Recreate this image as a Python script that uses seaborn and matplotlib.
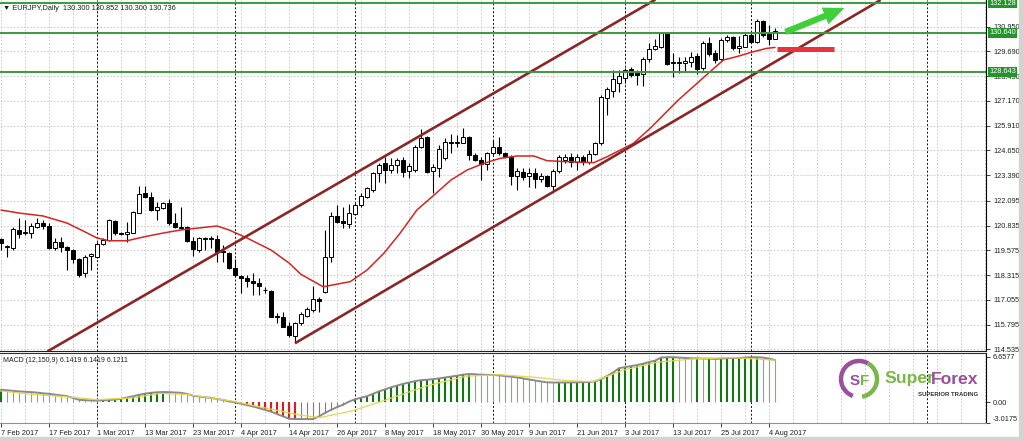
import numpy as np
import matplotlib
matplotlib.use("Agg")
import matplotlib.pyplot as plt
import matplotlib.transforms as mtransforms
from matplotlib.patches import Rectangle, Arc
import seaborn as sns

sns.set_style("white")
plt.rcParams['font.family'] = ['Liberation Sans', 'DejaVu Sans']

# ---------------- data ----------------
opens = [120.13, 119.73, 119.67, 120.61, 120.45, 120.44, 120.78, 120.95, 120.81, 119.67,
         120.01, 119.73, 119.59, 119.12, 118.40, 119.28, 119.22, 119.89, 120.10, 121.08,
         120.47, 120.40, 120.47, 121.49, 122.51, 122.30, 121.62, 121.71, 121.98, 120.98,
         120.78, 120.78, 120.06, 119.59, 120.17, 120.20, 120.13, 119.54, 119.42, 118.66,
         118.27, 118.15, 118.03, 117.93, 117.57, 117.52, 116.23, 116.20, 115.72, 115.22,
         115.86, 116.23, 116.54, 117.08, 117.47, 119.25, 121.32, 121.08, 120.91, 121.42,
         121.88, 122.30, 122.64, 123.49, 124.00, 123.66, 123.91, 124.17, 123.62, 123.66,
         124.81, 125.32, 123.62, 123.74, 124.25, 125.10, 125.01, 125.05, 125.32, 124.42,
         124.17, 123.96, 124.50, 124.81, 124.50, 124.33, 123.35, 123.57, 123.35, 123.52,
         123.18, 123.35, 122.84, 123.62, 124.17, 124.33, 124.08, 124.33, 124.08, 124.47,
         125.03, 127.30, 127.69, 128.06, 128.32, 128.77, 128.66, 128.54, 129.28, 129.79,
         129.93, 130.61, 129.15, 129.08, 129.08, 129.16, 129.45, 128.83, 130.10, 129.62,
         129.28, 130.27, 130.40, 129.84, 129.93, 130.52, 130.18, 131.25, 130.64, 130.300]
highs = [120.18, 119.84, 120.77, 121.23, 121.11, 120.95, 121.20, 121.11, 120.95, 120.18,
         120.27, 119.79, 119.62, 119.17, 119.33, 119.42, 120.01, 120.18, 121.15, 121.11,
         120.52, 121.03, 121.57, 122.84, 122.84, 122.56, 122.05, 122.05, 122.17, 121.45,
         121.79, 120.81, 120.27, 120.27, 120.27, 120.30, 120.35, 119.84, 119.50, 119.11,
         118.32, 118.32, 118.40, 118.15, 117.72, 117.55, 116.37, 116.45, 115.94, 115.94,
         116.45, 116.71, 117.76, 117.20, 120.61, 121.54, 121.88, 121.79, 121.93, 121.96,
         122.47, 122.81, 123.57, 124.00, 124.34, 124.25, 124.25, 124.30, 124.00, 124.93,
         125.72, 125.39, 123.96, 124.93, 125.27, 125.49, 125.44, 125.78, 125.39, 124.50,
         124.33, 124.59, 125.18, 125.32, 124.59, 124.42, 123.74, 123.74, 123.74, 123.74,
         123.49, 123.40, 123.69, 124.42, 124.47, 124.50, 124.47, 124.42, 124.67, 125.10,
         127.47, 127.86, 128.74, 128.74, 128.83, 128.91, 128.74, 129.42, 130.10, 130.30,
         130.69, 130.64, 129.59, 129.42, 129.42, 129.67, 129.59, 130.23, 130.44, 129.76,
         130.35, 130.52, 130.47, 130.47, 130.61, 130.64, 131.32, 131.28, 131.03, 130.852]
lows = [119.59, 119.22, 119.59, 120.18, 120.35, 120.18, 120.69, 120.64, 119.64, 119.59,
        119.51, 118.57, 118.91, 118.20, 118.20, 118.57, 119.17, 119.84, 120.06, 120.35,
        120.35, 120.01, 120.44, 121.45, 122.22, 121.59, 121.11, 121.66, 120.86, 120.69,
        120.64, 120.01, 119.28, 119.50, 119.59, 119.67, 118.99, 118.99, 118.61, 118.23,
        117.42, 117.72, 117.30, 117.30, 117.42, 116.16, 115.86, 115.66, 115.18, 114.84,
        115.78, 116.16, 116.45, 116.45, 117.42, 118.99, 120.94, 120.69, 120.69, 121.37,
        121.79, 122.22, 122.56, 123.06, 122.98, 123.49, 123.49, 123.32, 123.23, 123.57,
        124.76, 123.52, 122.47, 123.28, 124.17, 124.54, 124.84, 125.01, 124.17, 124.13,
        123.15, 123.66, 124.42, 124.42, 124.25, 122.89, 122.64, 123.15, 122.81, 122.72,
        123.06, 122.81, 122.55, 123.49, 124.00, 123.83, 123.66, 123.91, 123.96, 124.42,
        124.93, 126.45, 127.38, 127.64, 128.06, 128.40, 127.98, 127.93, 129.16, 129.76,
        129.84, 128.99, 128.40, 128.60, 128.62, 128.91, 128.54, 128.74, 129.45, 129.08,
        129.25, 130.18, 129.76, 129.59, 129.89, 130.10, 130.10, 130.44, 130.01, 130.300]
closes = [119.93, 119.79, 120.64, 120.40, 120.49, 120.81, 120.95, 120.81, 119.67, 120.01,
          119.73, 119.59, 119.12, 118.32, 119.22, 119.39, 119.89, 120.10, 121.11, 120.44,
          120.40, 120.52, 121.54, 122.44, 122.30, 121.62, 121.76, 121.98, 120.95, 120.74,
          120.72, 120.06, 119.62, 120.18, 120.22, 120.17, 119.50, 119.47, 118.66, 118.32,
          118.15, 118.03, 117.89, 117.76, 117.54, 116.20, 116.16, 115.69, 115.27, 115.86,
          116.33, 116.57, 117.08, 117.01, 119.25, 121.32, 121.03, 120.94, 121.45, 121.88,
          122.34, 122.72, 123.52, 123.91, 123.66, 123.91, 124.17, 123.57, 123.86, 124.81,
          125.27, 123.57, 123.79, 124.71, 125.10, 125.01, 125.10, 125.32, 124.42, 124.17,
          123.96, 124.50, 124.81, 124.50, 124.30, 123.35, 123.62, 123.32, 123.49, 123.18,
          123.35, 122.84, 123.62, 124.33, 124.33, 124.08, 124.33, 124.08, 124.47, 125.01,
          127.38, 127.76, 128.27, 128.44, 128.74, 128.49, 128.49, 129.28, 129.79, 129.96,
          130.64, 129.05, 129.08, 129.16, 129.21, 129.42, 128.77, 130.13, 129.55, 129.25,
          130.27, 130.40, 129.84, 129.96, 130.52, 130.18, 131.25, 130.52, 130.30, 130.736]

ma_bar = [0, 3, 7, 11, 14, 16, 18, 21, 24, 27, 30, 33, 36, 38, 41, 45, 48, 50, 53.7, 58.2,
          61, 63.8, 66.5, 69.3, 72.2, 75, 77.7, 80.5, 83.2, 86, 88.8, 91, 94.3, 98.8, 101,
          105.4, 108.2, 112.9, 118.2, 120.4, 122.6, 125.4, 127.6, 129]
ma_val = [121.62, 121.47, 121.32, 120.96, 120.51, 120.20, 120.06, 120.06, 120.27, 120.45,
          120.61, 120.71, 120.81, 120.61, 120.20, 119.59, 118.93, 118.35, 117.72, 117.98,
          118.57, 119.42, 120.44, 121.62, 122.39, 123.15, 123.66, 124.00, 124.25, 124.37,
          124.37, 124.13, 124.08, 124.03, 124.33, 125.01, 125.78, 127.22, 128.66, 129.25,
          129.42, 129.67, 129.84, 129.89]

upper_bar = [8.17, 108.45]
upper_price = [114.51, 132.21]
lower_bar = [49, 146.6]
lower_price = [114.85, 132.30]

level_prices = [132.128, 130.640, 128.643]
level_labels = ["132.128", "130.640", "128.643"]

arrow_from = (130.3, 130.62)
arrow_to = (141.0, 131.94)
red_mark_bar = [129.33, 138.83]
red_mark_price = 129.81

price_ticks = [130.950, 129.690, 128.430, 127.170, 125.910, 124.650, 123.390, 122.095,
               120.835, 119.575, 118.315, 117.055, 115.795, 114.535]

macd = [1.80, 1.72, 1.64, 1.55, 1.50, 1.45, 1.38, 1.27, 1.20, 1.08,
        0.95, 0.85, 0.60, 0.32, 0.26, 0.22, 0.20, 0.24, 0.30, 0.36,
        0.48, 0.66, 0.85, 1.05, 1.22, 1.35, 1.42, 1.46, 1.44, 1.40,
        1.35, 1.18, 0.92, 0.80, 0.70, 0.60, 0.45, 0.30, 0.10, -0.05,
        -0.25, -0.45, -0.65, -0.90, -1.15, -1.40, -1.75, -2.10, -2.45, -2.50,
        -2.50, -2.50, -2.50, -2.10, -1.60, -1.15, -0.75, -0.40, 0.05, 0.40,
        0.62, 0.85, 1.20, 1.55, 1.85, 2.15, 2.40, 2.65, 2.85, 3.05,
        3.20, 3.25, 3.35, 3.45, 3.58, 3.70, 3.85, 4.00, 4.10, 4.05,
        4.00, 3.98, 3.95, 3.90, 3.80, 3.70, 3.60, 3.45, 3.30, 3.15,
        3.00, 2.88, 2.85, 2.85, 2.85, 2.86, 2.88, 2.90, 2.93, 3.00,
        3.35, 3.80, 4.30, 4.95, 5.10, 5.25, 5.40, 5.60, 5.85, 6.05,
        6.50, 6.55, 6.55, 6.50, 6.45, 6.40, 6.40, 6.35, 6.35, 6.30,
        6.35, 6.40, 6.45, 6.45, 6.50, 6.55, 6.55, 6.50, 6.35, 6.1419]
sig_bar = [-0.2, 5.4, 11, 16, 22, 26.5, 31, 38.7, 44.3, 49.8, 53.2, 58.7, 64.3, 71, 77.6,
           83.2, 88.7, 94.3, 98.7, 103.7, 109.3, 115.4, 122, 129]
sig_val = [1.62, 1.11, 0.76, 0.35, 0.60, 1.26, 1.11, 0.10, -0.91, -1.92, -2.27, -1.26, 0.35,
           2.37, 3.79, 3.99, 3.64, 3.13, 2.98, 4.65, 5.81, 6.31, 6.50, 6.1211]
macd_ticks = [6.6577, 0.0, -3.0175]
macd_tick_labels = ["6.6577", "0.00", "-3.0175"]

date_bars = [0, 8, 16, 24, 32, 40, 48, 56, 64, 72, 80, 88, 96, 104, 112, 120, 128]
date_labels = ["7 Feb 2017", "17 Feb 2017", "1 Mar 2017", "13 Mar 2017", "23 Mar 2017",
               "4 Apr 2017", "14 Apr 2017", "26 Apr 2017", "8 May 2017", "18 May 2017",
               "30 May 2017", "9 Jun 2017", "21 Jun 2017", "3 Jul 2017", "13 Jul 2017",
               "25 Jul 2017", "4 Aug 2017"]
separator_bars = [16, 39, 59, 82, 104, 125, 154.3]
grid_bars = list(range(0, 165, 4))

title_text = "\u25bc EURJPY,Daily  130.300 130.852 130.300 130.736"
macd_text = "MACD (12,150,9) 6.1419 6.1419 6.1211"

# ---------------- figure ----------------
W, H = 1024, 441
fig = plt.figure(figsize=(W / 100, H / 100), dpi=100)
fig.patch.set_facecolor("white")


def rect(x0, y0, x1, y1):
    return [x0 / W, 1 - y1 / H, (x1 - x0) / W, (y1 - y0) / H]


ax = fig.add_axes(rect(0, 0, 986, 351))
ax2 = fig.add_axes(rect(0, 353, 986, 423))
XL = (-1 / 6, 985 / 6)
for a in (ax, ax2):
    a.set_xlim(*XL)
    a.set_facecolor("white")
    for s in ("top", "left"):
        a.spines[s].set_visible(False)
    a.spines["right"].set_color("black")
    a.spines["right"].set_linewidth(0.8)
    a.spines["bottom"].set_linewidth(0.8)
ax.spines["bottom"].set_color("#202020")
ax2.spines["top"].set_visible(True)
ax2.spines["top"].set_color("#303030")
ax2.spines["top"].set_linewidth(0.8)
ax2.spines["bottom"].set_color("#909090")

ax.set_ylim(114.455, 132.30)
ax2.set_ylim(-3.07, 7.17)

# grids
for a in (ax, ax2):
    for b in grid_bars:
        a.axvline(b, color="#c4c4c4", lw=0.6, ls=(0, (2, 2)), zorder=0)
    for b in separator_bars:
        a.axvline(b, color="#101010", lw=0.7, ls=(0, (2, 2)), zorder=0.5)
for t in price_ticks:
    ax.axhline(t, color="#c4c4c4", lw=0.6, ls=(0, (2, 2)), zorder=0)

# candles
o = np.array(opens); h = np.array(highs); l = np.array(lows); c = np.array(closes)
x = np.arange(len(o))
up = c >= o
ax.vlines(x, l, h, color="black", lw=0.8, zorder=2)
ax.bar(x[up], (c - o)[up], bottom=o[up], width=0.62, color="white",
       edgecolor="black", linewidth=0.7, zorder=3)
ax.bar(x[~up], (o - c)[~up], bottom=c[~up], width=0.62, color="black",
       edgecolor="black", linewidth=0.7, zorder=3)

# moving average
sns.lineplot(x=ma_bar, y=ma_val, ax=ax, color="#d42424", lw=1.1, sort=False,
             estimator=None, zorder=4)

# channel lines
ax.axline((upper_bar[0], upper_price[0]), (upper_bar[1], upper_price[1]),
          color="#8b2626", lw=1.9, zorder=4)
ax.plot(lower_bar, lower_price, color="#8b2626", lw=1.9, zorder=4,
        solid_capstyle="butt")

# horizontal levels
blend = mtransforms.blended_transform_factory(ax.transAxes, ax.transData)
for p, lab in zip(level_prices, level_labels):
    ax.axhline(p, color="#3a9a3a", lw=1.4, zorder=4)
    ax.text(1.0 + 3 / 986, p, lab, transform=blend, ha="left", va="center",
            fontsize=5.3, color="white", clip_on=False, zorder=8,
            bbox=dict(boxstyle="square,pad=0.2", fc="#23962b", ec="none"))

# annotations
ax.annotate("", xy=arrow_to, xytext=arrow_from,
            arrowprops=dict(arrowstyle="simple,head_length=1.5,head_width=1.3,tail_width=0.45",
                            color="#3ecf3a", lw=0, mutation_scale=10), zorder=6)
ax.plot(red_mark_bar, [red_mark_price] * 2, color="#e8323c", lw=3.6,
        solid_capstyle="butt", zorder=6)

# price axis
ax.yaxis.tick_right()
ax.set_yticks(price_ticks)
ax.set_yticklabels([f"{t:.3f}" for t in price_ticks])
ax.tick_params(axis="y", direction="out", length=3, width=0.6, pad=2,
               labelsize=5.3, colors="#202020", right=True, left=False)
ax.tick_params(axis="x", bottom=False, labelbottom=False)

# MACD
m = np.array(macd)
d = np.diff(m, prepend=m[0])
colors = np.where(m >= 0, np.where(d >= 0, "#127612", "#86a886"),
                  np.where(d < 0, "#e01b1b", "#d25a5a"))
lws = np.where(((m >= 0) & (d >= 0)) | ((m < 0) & (d < 0)), 1.5, 0.8)
ax2.vlines(x, 0, m, colors=list(colors), linewidths=list(lws), zorder=2)
sns.lineplot(x=x, y=m, ax=ax2, color="#8a8a8a", lw=1.4, zorder=3)
sns.lineplot(x=sig_bar, y=sig_val, ax=ax2, color="#e6d64a", lw=0.9, zorder=4,
             sort=False, estimator=None)
ax2.yaxis.tick_right()
ax2.set_yticks(macd_ticks)
ax2.set_yticklabels(macd_tick_labels)
ax2.tick_params(axis="y", direction="out", length=3, width=0.6, pad=2,
                labelsize=5.3, colors="#202020", right=True, left=False)
ax2.get_yticklabels()[-1].set_va("bottom")
ax2.set_xticks(date_bars)
ax2.set_xticklabels(date_labels, ha="left")
ax2.tick_params(axis="x", direction="out", length=3, width=0.6, pad=2,
                labelsize=5.3, colors="#202020", bottom=True)
ax2.set_xlabel(""); ax2.set_ylabel(""); ax.set_xlabel(""); ax.set_ylabel("")

# overlay: texts, logo, window frame
ov = fig.add_axes([0, 0, 1, 1])
ov.set_xlim(0, W); ov.set_ylim(H, 0); ov.axis("off"); ov.patch.set_alpha(0)
ov.text(3, 8, title_text, fontsize=5.3, va="center", ha="left", color="#202020")
ov.text(3, 361, macd_text, fontsize=5.0, va="center", ha="left", color="#202020")
ov.add_patch(Rectangle((1019, 0), 5, H, color="#d6d3ce", zorder=1))
ov.add_patch(Rectangle((0, 437), W, 4, color="#d6d3ce", zorder=1))
# logo
ov.add_patch(Arc((859, 379), 36, 36, theta1=110, theta2=300, color="#9b4f9f", lw=3.2))
ov.add_patch(Arc((859, 379), 36, 36, theta1=300, theta2=440, color="#7ab648", lw=3.2))
ov.text(855, 381, "S", fontsize=11, fontweight="bold", color="#9b4f9f", ha="center", va="center")
ov.text(865, 381, "F", fontsize=11, fontweight="bold", color="#7ab648", ha="center", va="center")
t_super = ov.text(884, 379, "Super", fontsize=12.6, color="#7ab648", ha="left",
                  va="center", fontweight="bold")
fig.canvas.draw()
bb = t_super.get_window_extent(renderer=fig.canvas.get_renderer())
x_end = bb.x1 * W / fig.bbox.width - 3
ov.text(x_end, 379, "Forex", fontsize=12.6, color="#9b4f9f", ha="left", va="center",
        fontweight="bold")
ov.text(978, 394, "SUPERIOR TRADING", fontsize=4.3, color="#333333", ha="right",
        va="center", fontweight="bold")

fig.savefig("out.png", dpi=100)
